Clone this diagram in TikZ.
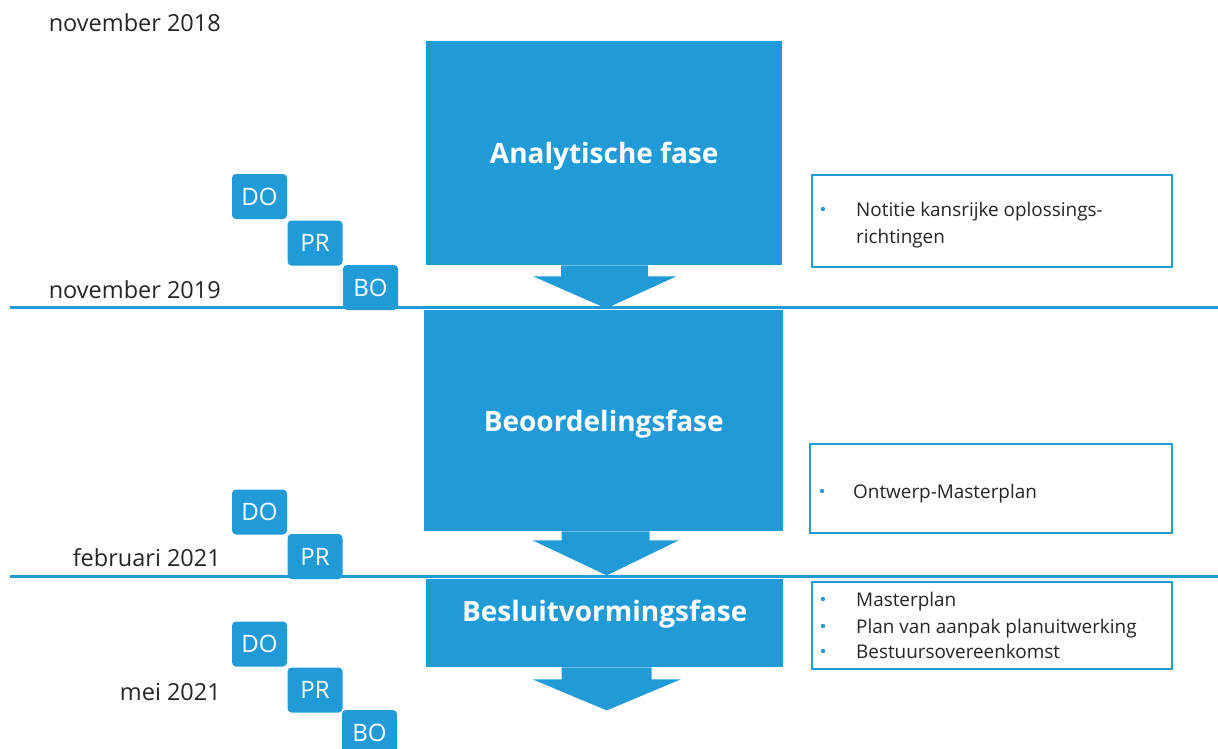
\documentclass[tikz,border=0pt]{standalone}
\usepackage{fontspec}
\setmainfont{Open Sans}
\definecolor{fasblauw}{HTML}{219BD8}
\definecolor{tekstgrijs}{HTML}{252525}

\begin{document}
\begin{tikzpicture}[x=1pt, y=-1pt,
		fase/.style={fill=fasblauw, anchor=north west, inner sep=0pt},
		fasetitel/.style={text=white, font=\bfseries\fontsize{28}{32}\selectfont, inner sep=0pt},
		tag/.style={fill=fasblauw, rounded corners=4pt, text=white, minimum width=55pt, minimum height=45pt, inner sep=0pt, font=\fontsize{24}{28}\selectfont},
		datum/.style={anchor=base east, text=tekstgrijs, font=\fontsize{23.5}{28}\selectfont, inner sep=0pt},
		uitkomst/.style={draw=fasblauw, line width=2pt, anchor=north west, inner sep=0pt},
		punt/.style={anchor=base west, text=tekstgrijs, font=\fontsize{18.9}{22}\selectfont, inner sep=0pt}]
			\useasboundingbox (0,0) rectangle (1218,749);
			\coordinate (lijn1a) at (10,307);
			\coordinate (lijn1b) at (1218,307);
			\coordinate (lijn2a) at (10,576);
			\coordinate (lijn2b) at (1218,576);
			\draw[fasblauw, line width=3pt] (lijn1a)--(lijn1b);
			\draw[fasblauw, line width=3pt] (lijn2a)--(lijn2b);
			\node[fase, minimum width=356pt, minimum height=224pt] (fase1) at (426,41) {};
			\node[fase, minimum width=359pt, minimum height=221pt] (fase2) at (424,310) {};
			\node[fase, minimum width=357pt, minimum height=88pt] (fase3) at (426,579) {};
			\fill[fasblauw] ([xshift=-43pt]fase1.south)--++(0,11)--++(-28,0)--++(73,32)--++(70,-32)--++(-28,0)--++(0,-11)--cycle;
			\fill[fasblauw] ([xshift=-42pt]fase2.south)--++(0,9)--++(-29,0)--++(74,35)--++(72,-35)--++(-29,0)--++(0,-9)--cycle;
			\fill[fasblauw] ([xshift=-43pt]fase3.south)--++(0,12)--++(-29,0)--++(74,31)--++(74,-31)--++(-29,0)--++(0,-12)--cycle;
			\node[fasetitel] (titel1) at ([yshift=-3pt]fase1.center) {Analytische fase};
			\node[fasetitel] (titel2) at ([yshift=-3pt]fase2.center) {Beoordelingsfase};
			\node[fasetitel] (titel3) at ([yshift=9pt]fase3.center) {Besluitvormingsfase};
			\node[datum] (datum1) at (221,32) {november 2018};
			\node[datum] (datum2) at (221,298) {november 2019};
			\node[datum] (datum3) at (221,566) {februari 2021};
			\node[datum] (datum4) at (221,700) {mei 2021};
			\node[tag] (do1) at (259.5,196.5) {DO};
			\node[tag] (pr1) at (315,243) {PR};
			\node[tag] (bo1) at (370.5,287.5) {BO};
			\node[tag] (do2) at (259.5,512) {DO};
			\node[tag] (pr2) at (315,556.5) {PR};
			\node[tag] (do3) at (259.5,644) {DO};
			\node[tag] (pr3) at (315,690) {PR};
			\node[tag] (bo3) at (369.5,732.5) {BO};
			\node[uitkomst, minimum width=360pt, minimum height=92pt] (uitkomst1) at (811,174) {};
			\node[uitkomst, minimum width=362pt, minimum height=89pt] (uitkomst2) at (809,443) {};
			\node[uitkomst, minimum width=360pt, minimum height=87pt] (uitkomst3) at (811,581) {};
			\fill[fasblauw] (823,209) circle (2.2pt);
			\node[punt] (notitie) at (856,216) {Notitie kansrijke oplossings-};
			\node[punt] (richtingen) at (856,243) {richtingen};
			\fill[fasblauw] (822,491) circle (2.2pt);
			\node[punt] (ontwerp) at (853,498) {Ontwerp-Masterplan};
			\fill[fasblauw] (823,599) circle (2.2pt);
			\node[punt] (masterplan) at (856,606) {Masterplan};
			\fill[fasblauw] (823,626) circle (2.2pt);
			\node[punt] (planvanaanpak) at (856,633) {Plan van aanpak planuitwerking};
			\fill[fasblauw] (823,651) circle (2.2pt);
			\node[punt] (bestuurs) at (856,658) {Bestuursovereenkomst};
		\end{tikzpicture}
\end{document}
